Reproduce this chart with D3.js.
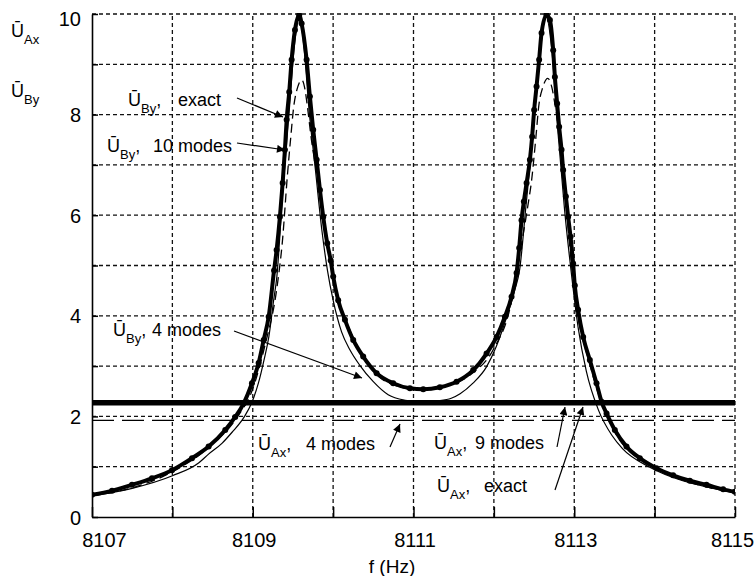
<!DOCTYPE html>
<html><head><meta charset="utf-8">
<script src="https://cdn.jsdelivr.net/npm/d3@7"></script>
<style>
html,body{margin:0;padding:0;background:#fff;}
svg{display:block;font-family:"Liberation Sans",Arial,sans-serif;}
</style></head>
<body><svg id="c" width="755" height="576"></svg>
<script>
// ---- data ----
const xTickLabels = [8107, 8109, 8111, 8113, 8115];
const yTickLabels = [0, 2, 4, 6, 8, 10];

// U_By exact
const fExact = [8107.000,8107.249,8107.498,8107.746,8107.995,8108.244,8108.451,8108.658,8108.782,8108.887,8108.990,8109.073,8109.136,8109.198,8109.265,8109.297,8109.338,8109.372,8109.400,8109.422,8109.454,8109.484,8109.525,8109.578,8109.608,8109.670,8109.711,8109.752,8109.795,8109.836,8109.877,8109.927,8109.970,8110.001,8110.063,8110.147,8110.250,8110.374,8110.541,8110.747,8110.955,8111.121,8111.328,8111.536,8111.743,8111.909,8112.034,8112.137,8112.220,8112.282,8112.315,8112.344,8112.373,8112.407,8112.448,8112.476,8112.501,8112.531,8112.563,8112.593,8112.655,8112.697,8112.738,8112.759,8112.787,8112.812,8112.842,8112.862,8112.896,8112.924,8112.954,8112.986,8113.007,8113.048,8113.111,8113.194,8113.277,8113.340,8113.402,8113.505,8113.650,8113.816,8114.023,8114.230,8114.438,8114.645,8114.852,8114.998];
const byExact = [0.44,0.52,0.64,0.77,0.93,1.17,1.40,1.73,1.99,2.26,2.66,3.06,3.52,3.98,4.90,5.31,5.97,6.64,7.30,7.90,8.45,9.09,9.68,9.98,9.81,9.09,8.36,7.70,7.10,6.50,5.97,5.44,5.10,4.78,4.31,3.92,3.52,3.19,2.86,2.66,2.56,2.54,2.58,2.69,2.92,3.25,3.58,3.98,4.38,4.85,5.35,5.90,6.27,6.64,7.10,7.56,8.09,8.56,9.09,9.62,9.98,9.88,9.28,8.75,8.22,7.76,7.30,6.90,6.37,5.97,5.57,5.04,4.60,4.12,3.58,3.12,2.66,2.29,2.06,1.73,1.40,1.17,0.97,0.83,0.72,0.64,0.55,0.50];

// U_By 10 modes
const f10 = [8107.0,8107.5,8108.0,8108.5,8108.8,8109.0,8109.15,8109.3,8109.37,8109.43,8109.47,8109.51,8109.56,8109.61,8109.65,8109.68,8109.73,8109.80,8109.86,8109.92,8110.0,8110.2,8110.5,8110.8,8111.1,8111.4,8111.7,8112.0,8112.2,8112.33,8112.42,8112.47,8112.52,8112.56,8112.61,8112.67,8112.72,8112.77,8112.83,8112.9,8113.0,8113.2,8113.5,8114.0,8114.5,8115.0];
const by10 = [0.43,0.58,0.90,1.45,1.97,2.55,3.40,4.55,5.50,6.77,7.50,8.16,8.55,8.69,8.50,8.16,7.50,6.80,6.17,5.57,4.75,3.75,2.90,2.60,2.52,2.60,2.82,3.35,4.15,5.30,6.16,6.70,7.50,8.19,8.55,8.72,8.55,8.10,7.40,6.16,4.50,3.00,1.70,0.98,0.66,0.49];

// U_By 4 modes
const f4 = [8107.0,8107.5,8108.0,8108.33,8108.45,8108.62,8108.74,8108.89,8108.99,8109.07,8109.14,8109.20,8109.26,8109.30,8109.37,8109.45,8109.52,8109.58,8109.64,8109.70,8109.78,8109.86,8109.93,8110.0,8110.105,8110.21,8110.33,8110.50,8110.685,8110.9,8111.1,8111.3,8111.47,8111.58,8111.74,8111.91,8112.03,8112.16,8112.26,8112.32,8112.40,8112.48,8112.56,8112.65,8112.72,8112.80,8112.88,8112.96,8113.05,8113.15,8113.30,8113.47,8113.60,8113.94,8114.35,8114.7,8115.0];
const by4 = [0.42,0.57,0.82,1.08,1.25,1.47,1.68,1.98,2.28,2.66,3.12,3.58,4.31,4.78,6.40,8.00,9.40,9.95,9.30,8.10,6.90,5.70,4.90,4.31,3.68,3.32,3.02,2.69,2.43,2.32,2.29,2.31,2.36,2.45,2.66,2.99,3.39,3.98,4.51,4.91,6.20,7.50,9.00,9.95,9.30,7.60,6.10,4.90,3.75,2.90,2.13,1.62,1.36,0.99,0.72,0.58,0.48];

// U_Ax (constant over f)
const fAx = [8107, 8115];
const axExact = [2.27, 2.27];
const ax9 = [2.27, 2.27];
const ax4 = [1.92, 1.92];

// ---- drawing ----
const svg = d3.select("#c");
const x = d3.scaleLinear().domain([8107, 8115]).range([92, 735]);
const y = d3.scaleLinear().domain([0, 10]).range([517, 14]);
const FONT = "Liberation Sans, Arial, sans-serif";

// grid
const grid = svg.append("g").attr("stroke", "#111").attr("stroke-width", 1.3).attr("stroke-dasharray", "4,3");
grid.selectAll("line.h").data(d3.range(1, 11)).join("line")
  .attr("x1", x(8107)).attr("x2", x(8115)).attr("y1", d => y(d)).attr("y2", d => y(d));
grid.selectAll("line.v").data(d3.range(8108, 8116)).join("line")
  .attr("x1", d => x(d)).attr("x2", d => x(d)).attr("y1", y(0)).attr("y2", y(10));

// inner ticks
svg.append("g").attr("transform", `translate(0,${y(0)})`)
  .call(d3.axisBottom(x).tickValues(d3.range(8107, 8116)).tickSizeInner(-10).tickSizeOuter(0).tickFormat(""))
  .call(g => g.selectAll("line").attr("stroke", "#000").attr("stroke-width", 1.5))
  .call(g => g.select(".domain").remove());
svg.append("g").attr("transform", `translate(${x(8107)},0)`)
  .call(d3.axisLeft(y).tickValues(d3.range(0, 11)).tickSizeInner(-6).tickSizeOuter(0).tickFormat(""))
  .call(g => g.selectAll("line").attr("stroke", "#000").attr("stroke-width", 1.5))
  .call(g => g.select(".domain").remove());

// axes with labels
const nX = xTickLabels.length;
const xAxis = svg.append("g").attr("transform", `translate(0,${y(0)})`)
  .call(d3.axisBottom(x).tickValues(xTickLabels).tickFormat(d3.format("d")).tickSize(0).tickPadding(16));
xAxis.select(".domain").attr("stroke", "#000").attr("stroke-width", 1.6);
xAxis.selectAll("text").attr("font-size", 20).attr("font-family", FONT).attr("fill", "#000")
  .attr("dx", (d, i) => i === 0 ? 12 : (i === nX - 1 ? -3 : 1));

const yAxis = svg.append("g").attr("transform", `translate(${x(8107)},0)`)
  .call(d3.axisLeft(y).tickValues(yTickLabels).tickFormat(d3.format("d")).tickSize(0).tickPadding(11));
yAxis.select(".domain").attr("stroke", "#000").attr("stroke-width", 1.6);
yAxis.selectAll("text").attr("font-size", 20).attr("font-family", FONT).attr("fill", "#000")
  .attr("dy", d => d === 10 ? "0.55em" : "0.35em");

svg.append("text").attr("x", 392).attr("y", 573).attr("text-anchor", "middle")
  .attr("font-size", 19).attr("font-family", FONT).text("f (Hz)");

// clip
svg.append("clipPath").attr("id", "pc").append("rect")
  .attr("x", x(8107)).attr("y", y(10) - 1).attr("width", x(8115) - x(8107)).attr("height", y(0) - y(10) + 1);
const plot = svg.append("g").attr("clip-path", "url(#pc)");

const line = d3.line().x(d => x(d[0])).y(d => y(d[1])).curve(d3.curveMonotoneX);
const zipped = (fs, vs) => fs.map((f, i) => [f, vs[i]]);

// U_Ax horizontal lines
plot.append("path").datum(zipped(fAx, ax4)).attr("d", line)
  .attr("fill", "none").attr("stroke", "#000").attr("stroke-width", 1.4).attr("stroke-dasharray", "22,8");
plot.append("path").datum(zipped(fAx, axExact)).attr("d", line)
  .attr("fill", "none").attr("stroke", "#000").attr("stroke-width", 5.5);
plot.append("path").datum(zipped(fAx, ax9)).attr("d", line)
  .attr("fill", "none").attr("stroke", "#000").attr("stroke-width", 1.2);

// U_By curves
plot.append("path").datum(zipped(f4, by4)).attr("d", line)
  .attr("fill", "none").attr("stroke", "#000").attr("stroke-width", 1.2);
plot.append("path").datum(zipped(f10, by10)).attr("d", line)
  .attr("fill", "none").attr("stroke", "#000").attr("stroke-width", 1.3).attr("stroke-dasharray", "9,5");
plot.append("path").datum(zipped(fExact, byExact)).attr("d", line)
  .attr("fill", "none").attr("stroke", "#000").attr("stroke-width", 4).attr("stroke-linejoin", "round");
plot.selectAll("circle.ex").data(zipped(fExact, byExact)).join("circle")
  .attr("cx", d => x(d[0])).attr("cy", d => y(d[1])).attr("r", 3).attr("fill", "#000");

// titles on the left
function ulabel(px, py, sub, rest, restX) {
  const t = svg.append("text").attr("x", px).attr("y", py).attr("font-family", FONT).attr("font-size", 18).attr("fill", "#000");
  t.append("tspan").text("\u016A");
  t.append("tspan").attr("font-size", 13).attr("dy", 7).text(sub);
  if (rest) {
    t.append("tspan").attr("dy", -7).text(",");
    t.append("tspan").attr("x", restX).text(rest);
  }
}
ulabel(11, 37, "Ax");
ulabel(11, 97, "By");

ulabel(128, 106, "By", "exact", 178);
ulabel(107, 152, "By", "10 modes", 153);
ulabel(113, 336, "By", "4 modes", 152);
ulabel(258, 450, "Ax", "4 modes", 306);
ulabel(434, 449, "Ax", "9 modes", 475);
ulabel(437, 492, "Ax", "exact", 484);

// arrows
const defs = svg.append("defs");
defs.append("marker").attr("id", "ah").attr("viewBox", "0 0 10 10").attr("refX", 10).attr("refY", 5)
  .attr("markerWidth", 11).attr("markerHeight", 8).attr("markerUnits", "userSpaceOnUse").attr("orient", "auto")
  .append("path").attr("d", "M0,0 L10,5 L0,10 Z").attr("fill", "#000");
const arrows = [
  [237, 98, 283, 117],
  [237, 143, 285, 150],
  [234, 331, 362, 378],
  [390, 447, 400, 424],
  [557, 447, 565, 407],
  [555, 490, 583, 407]
];
svg.selectAll("line.arr").data(arrows).join("line")
  .attr("x1", d => d[0]).attr("y1", d => d[1]).attr("x2", d => d[2]).attr("y2", d => d[3])
  .attr("stroke", "#000").attr("stroke-width", 1.2).attr("marker-end", "url(#ah)");
</script></body></html>
